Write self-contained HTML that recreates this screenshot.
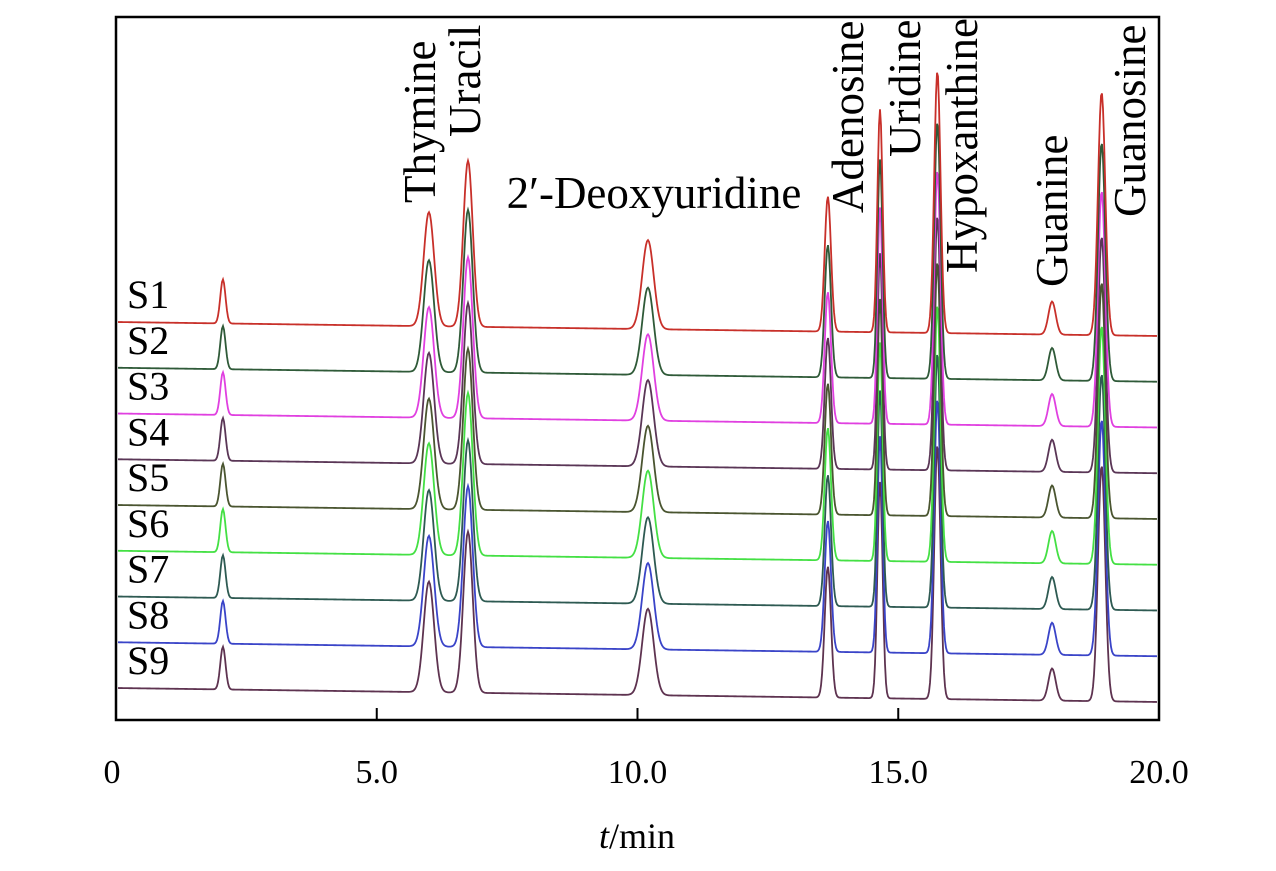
<!DOCTYPE html>
<html><head><meta charset="utf-8"><style>
body{margin:0;background:#fff;}
svg text{font-family:"Liberation Serif",serif;fill:#000;}
</style></head><body>
<svg id="chart" width="1276" height="866" xmlns="http://www.w3.org/2000/svg">
<rect x="0" y="0" width="1276" height="866" fill="#fff"/>
<g id="traces"></g>
<rect x="116" y="17" width="1043" height="703" fill="none" stroke="#000" stroke-width="2.5"/>
<g id="ticks"></g>
<text x="637" y="848" font-size="36" text-anchor="middle"><tspan font-style="italic">t</tspan>/min</text>
<g id="labels" font-size="45"></g>
</svg>
<script>
const sampleNames=["S1","S2","S3","S4","S5","S6","S7","S8","S9"];
const sampleColors=["#c8302a","#2f5a38","#e040e0","#5a3656","#4a5530","#44e044","#2e5a52","#3a44c8","#5e3350"];
const peakTimes=[2.05,6.0,6.75,10.2,13.65,14.65,15.75,17.95,18.9];
const peakWidths=[0.05,0.1,0.09,0.11,0.06,0.05,0.06,0.07,0.07];
const peakHeightsS1=[44,114,166,89,135,223,262,33,243];
const peakScale=[1,0.98,0.97,0.97,0.97,0.98,0.97,0.97,0.97];
const peakNames=["Thymine","Uracil","2\u2032-Deoxyuridine","Adenosine","Uridine","Hypoxanthine","Guanine","Guanosine"];
const tickValues=[0,5,10,15,20];
const tickLabels=["0","5.0","10.0","15.0","20.0"];
const ns="http://www.w3.org/2000/svg";
const X0=116,X1=1159,T0=0,T1=20;
const xs=t=>X0+(t-T0)/(T1-T0)*(X1-X0);
const base0=322,gap=45.75,drift=14;
const tr=document.getElementById('traces');
for(let s=sampleNames.length-1;s>=0;s--){
  let d="";
  for(let px=X0+2;px<=X1-2;px+=1){
    const t=T0+(px-X0)/(X1-X0)*(T1-T0);
    let y=base0+s*gap+drift*(t/20);
    for(let k=0;k<peakTimes.length;k++){
      const z=(t-peakTimes[k])/peakWidths[k];
      y-=peakHeightsS1[k]*peakScale[s]*Math.exp(-0.5*z*z);
    }
    d+=(d?"L":"M")+px+","+y.toFixed(2);
  }
  const p=document.createElementNS(ns,"path");
  
  
  p.setAttribute("d",d);p.setAttribute("fill","none");
  p.setAttribute("stroke",sampleColors[s]);p.setAttribute("stroke-width","1.8");
  tr.appendChild(p);
  const lt=document.createElementNS(ns,"text");
  
  
  lt.setAttribute("x",127);lt.setAttribute("y",base0+s*gap-14);
  lt.setAttribute("font-size","40");lt.textContent=sampleNames[s];
  tr.appendChild(lt);
}
const tk=document.getElementById('ticks');
tickValues.forEach((v,i)=>{
  const x=xs(v);
  if(i>0&&i<tickValues.length-1){
    const l=document.createElementNS(ns,"line");
    
    
    l.setAttribute("x1",x);l.setAttribute("x2",x);l.setAttribute("y1",720);l.setAttribute("y2",708);
    l.setAttribute("stroke","#000");l.setAttribute("stroke-width","2");tk.appendChild(l);
  }
  const t=document.createElementNS(ns,"text");
  
  
  t.setAttribute("x",i==0?x-4:x);t.setAttribute("y",783);t.setAttribute("font-size","34");
  t.setAttribute("text-anchor","middle");t.textContent=tickLabels[i];tk.appendChild(t);
});
const lb=document.getElementById('labels');
const labelX=[435,480,0,863,920,977,1067,1145];
const labelBottoms=[203,137,0,213,157,273,287,217];
peakNames.forEach((n,i)=>{
  const t=document.createElementNS(ns,"text");
  
  
  if(i==2){
    t.setAttribute("x",654);t.setAttribute("y",208);t.setAttribute("text-anchor","middle");
  } else {
    t.setAttribute("transform","translate("+labelX[i]+","+labelBottoms[i]+") rotate(-90)");
    t.setAttribute("text-anchor","start");
  }
  t.textContent=n;lb.appendChild(t);
});
</script>
</body></html>
